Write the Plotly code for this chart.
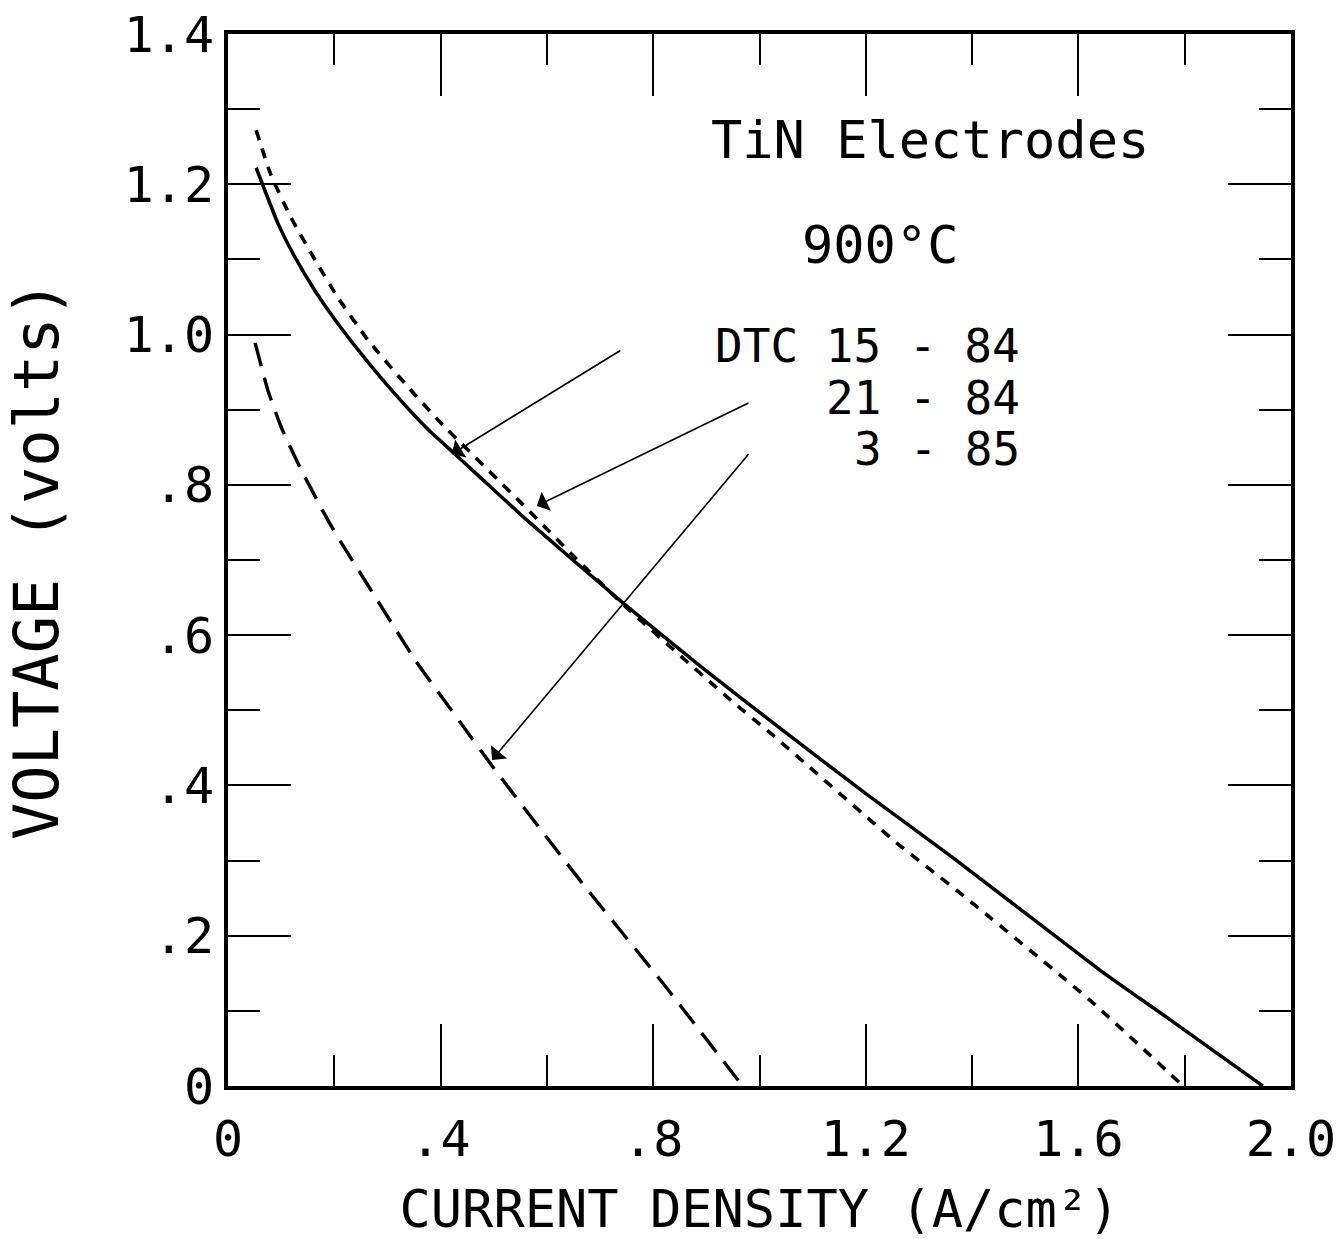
import plotly.graph_objects as go

# ---- data ----
x_dtc15_84 = [0.053, 0.094, 0.126, 0.164, 0.201, 0.250, 0.314, 0.376, 0.427, 0.470,
              0.564, 0.743, 0.888, 1.039, 1.200, 1.358, 1.641, 1.767, 1.947]
v_dtc15_84 = [1.222, 1.148, 1.103, 1.058, 1.020, 0.975, 0.921, 0.874, 0.841, 0.813,
              0.752, 0.643, 0.559, 0.476, 0.389, 0.307, 0.154, 0.091, 0.0]

x_dtc21_84 = [0.053, 0.081, 0.119, 0.164, 0.207, 0.263, 0.339, 0.401, 0.546, 0.649,
              0.740, 0.950, 1.020, 1.259, 1.377, 1.622, 1.797]
v_dtc21_84 = [1.272, 1.212, 1.155, 1.099, 1.049, 0.993, 0.930, 0.882, 0.780, 0.706,
              0.643, 0.511, 0.470, 0.323, 0.257, 0.114, 0.0]

x_dtc3_85 = [0.051, 0.075, 0.100, 0.126, 0.145, 0.188, 0.213, 0.277, 0.352, 0.438,
             0.500, 0.662, 0.818, 0.968]
v_dtc3_85 = [0.989, 0.926, 0.877, 0.837, 0.810, 0.753, 0.723, 0.651, 0.567, 0.483,
             0.423, 0.274, 0.137, 0.0]

x_tick_vals = [0, 0.4, 0.8, 1.2, 1.6, 2.0]
x_tick_text = ["0", ".4", ".8", "1.2", "1.6", "2.0"]
y_tick_vals = [0, 0.2, 0.4, 0.6, 0.8, 1.0, 1.2, 1.4]
y_tick_text = ["0", ".2", ".4", ".6", ".8", "1.0", "1.2", "1.4"]

series_labels = ["DTC 15 - 84", "21 - 84", "3 - 85"]

FONT = "DejaVu Sans Mono"

fig = go.Figure()
fig.add_trace(go.Scatter(x=x_dtc15_84, y=v_dtc15_84, mode="lines", name=series_labels[0],
                         line=dict(color="black", width=3.5, shape="spline", smoothing=0.5)))
fig.add_trace(go.Scatter(x=x_dtc21_84, y=v_dtc21_84, mode="lines", name=series_labels[1],
                         line=dict(color="black", width=3.6, dash="10px,9px", shape="spline", smoothing=0.5)))
fig.add_trace(go.Scatter(x=x_dtc3_85, y=v_dtc3_85, mode="lines", name=series_labels[2],
                         line=dict(color="black", width=3.4, dash="24px,12px", shape="spline", smoothing=0.5)))

axis_common = dict(
    showgrid=False, zeroline=False, showline=True, linecolor="black", linewidth=4,
    mirror="ticks", ticks="inside", tickcolor="black", tickwidth=2, automargin=False,
    tickfont=dict(family=FONT, size=50, color="black"),
)

fig.update_xaxes(
    range=[0, 2.0], tickmode="array", tickvals=x_tick_vals, ticktext=x_tick_text,
    ticklen=62, ticklabelstandoff=6,
    minor=dict(dtick=0.2, tick0=0, ticks="inside", ticklen=31, tickwidth=2, tickcolor="black"),
    title=dict(text="CURRENT DENSITY (A/cm²)", font=dict(family=FONT, size=52, color="black"), standoff=28),
    **axis_common,
)
fig.update_yaxes(
    range=[0, 1.4], tickmode="array", tickvals=y_tick_vals, ticktext=y_tick_text,
    ticklen=63, ticklabelstandoff=0,
    minor=dict(dtick=0.1, tick0=0, ticks="inside", ticklen=32, tickwidth=2, tickcolor="black"),
    title=dict(text="VOLTAGE (volts)", font=dict(family=FONT, size=62, color="black"), standoff=50),
    **axis_common,
)

# text annotations
fig.add_annotation(x=1.321, y=1.259, text="TiN Electrodes", showarrow=False,
                   font=dict(family=FONT, size=52, color="black"), xanchor="center", yanchor="middle")
fig.add_annotation(x=1.227, y=1.119, text="900°C", showarrow=False,
                   font=dict(family=FONT, size=52, color="black"), xanchor="center", yanchor="middle")
label_y = [0.985, 0.916, 0.848]
for lab, ly in zip(series_labels, label_y):
    fig.add_annotation(x=1.494, y=ly, text=lab, showarrow=False,
                       font=dict(family=FONT, size=46, color="black"), xanchor="right", yanchor="middle")

# arrows (tail -> tip on each curve)
arrows = [((0.741, 0.980), (0.421, 0.841)),
          ((0.982, 0.910), (0.581, 0.772)),
          ((0.982, 0.843), (0.497, 0.434))]
for (tx, ty), (hx, hy) in arrows:
    fig.add_annotation(x=hx, y=hy, ax=tx, ay=ty, axref="x", ayref="y", xref="x", yref="y",
                       text="", showarrow=True, arrowhead=1, arrowsize=2.2, arrowwidth=1.6,
                       arrowcolor="black")

fig.update_layout(
    width=1343, height=1239,
    margin=dict(l=228, r=52, t=34, b=153),
    paper_bgcolor="white", plot_bgcolor="white",
    showlegend=False,
)

fig.write_html("out.html")
